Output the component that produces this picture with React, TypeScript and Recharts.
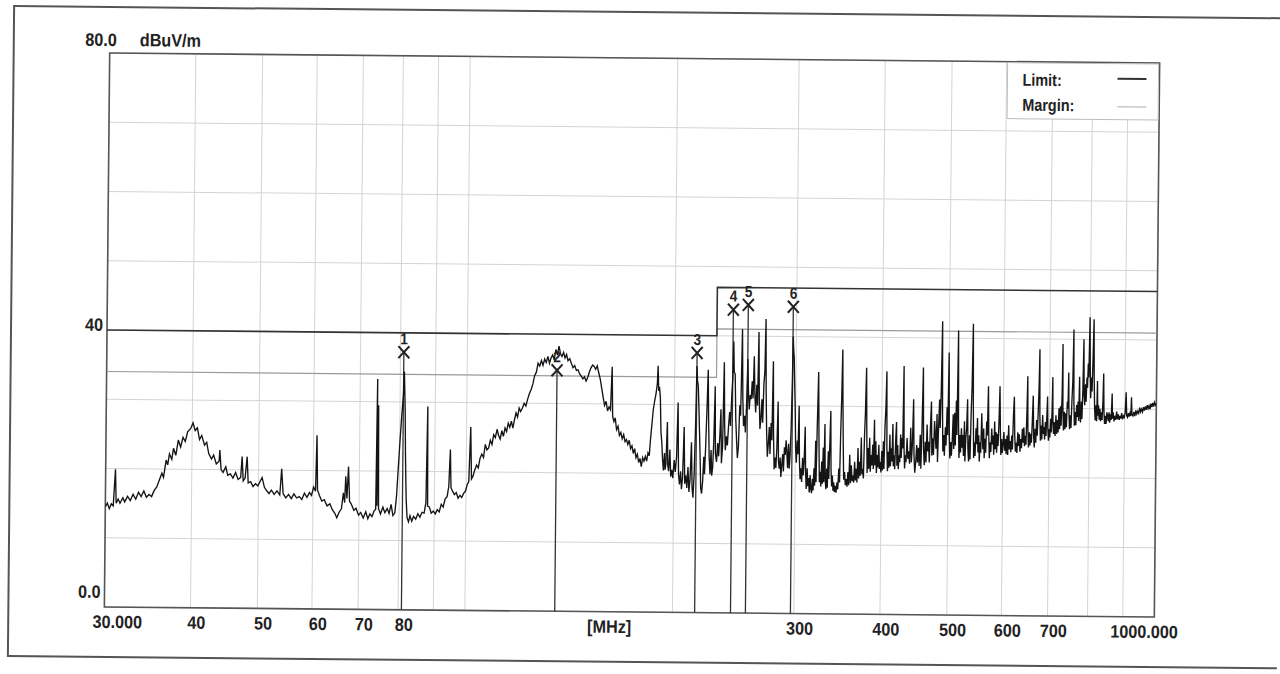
import React from "react";
import {
  ComposedChart,
  Line,
  Scatter,
  XAxis,
  YAxis,
  CartesianGrid,
  ReferenceLine,
  ReferenceArea,
} from "recharts";

// measured trace, [MHz, dBuV/m]
const traceLow: [number, number][] = [
  [30.0,14.5],[30.2,15.0],[30.4,14.2],[30.6,14.9],[30.8,14.6],[31.0,19.9],[31.1,15.0],[31.3,15.6],[31.5,15.0],[31.8,15.8],
  [32.0,15.2],[32.3,16.0],[32.6,15.4],[32.9,16.3],[33.2,15.6],[33.5,16.6],[33.8,16.0],[34.1,16.8],[34.4,15.9],[34.7,16.3],
  [35.0,16.0],[35.3,16.9],[35.6,17.4],[35.9,18.4],[36.2,19.4],[36.4,18.8],[36.7,21.3],[36.9,20.6],[37.1,22.2],[37.4,21.4],
  [37.6,23.0],[37.9,22.0],[38.2,24.2],[38.5,23.2],[38.8,24.6],[39.1,24.0],[39.4,25.4],[39.8,25.9],[40.1,26.7],[40.4,25.6],
  [40.7,26.0],[41.0,24.3],[41.3,24.9],[41.7,23.5],[42.0,23.9],[42.3,22.3],[42.7,21.5],[43.0,22.1],[43.4,20.8],[43.8,21.2],
  [43.9,22.8],[44.1,20.0],[44.4,19.6],[44.8,20.4],[45.1,19.2],[45.5,19.4],[45.9,18.8],[46.3,19.6],[46.7,18.6],[47.1,18.9],
  [47.3,21.9],[47.5,18.4],[47.8,18.8],[48.1,21.9],[48.3,18.1],[48.7,18.3],[49.1,17.6],[49.5,18.0],[49.9,17.7],[50.3,18.4],
  [50.6,18.9],[51.0,17.5],[51.4,17.0],[51.8,16.6],[52.2,17.1],[52.7,16.5],[53.2,17.0],[53.7,16.4],[54.0,20.2],[54.3,16.6],
  [54.8,16.0],[55.3,16.5],[55.8,15.9],[56.3,16.6],[56.8,16.0],[57.3,16.2],[57.8,15.8],[58.3,16.7],[58.8,16.1],[59.3,16.8],
  [59.7,16.4],[60.1,17.6],[60.5,17.0],[60.7,25.1],[60.9,17.2],[61.3,16.4],[61.8,15.6],[62.3,15.8],[62.9,14.9],[63.5,15.2],
  [64.0,14.4],[64.6,13.8],[65.0,13.2],[65.5,14.0],[66.0,14.5],[66.4,16.8],[66.7,15.4],[66.9,19.2],[67.2,16.0],[67.5,20.6],
  [67.8,15.6],[68.2,15.2],[68.8,14.3],[69.3,14.6],[69.9,13.6],[70.4,14.0],[71.0,13.2],[71.6,14.1],[72.1,13.1],[72.6,13.8],
  [73.1,13.4],[73.6,14.2],[74.0,14.5],[74.2,33.3],[74.3,15.0],[74.5,29.5],[74.7,14.6],[75.2,13.8],[75.8,14.8],[76.3,14.0],
  [76.9,14.6],[77.4,13.9],[77.9,15.2],[78.4,13.6],[78.9,14.0],[79.3,16.4],[79.7,20.5],[80.1,24.5],[80.5,28.0],[80.9,31.0],
  [81.1,34.4],[81.4,29.0],[81.6,22.4],[81.9,16.0],[82.2,13.3],[82.6,12.7],[83.0,13.6],[83.5,12.8],[84.0,13.5],[84.6,13.1],
  [85.2,13.9],[85.8,13.4],[86.4,14.1],[87.0,14.0],[87.5,15.5],[87.8,29.4],[88.0,15.0],[88.5,14.9],[89.1,14.0],[89.7,14.3],
  [90.3,13.9],[90.9,14.5],[91.5,14.2],[92.1,15.3],[92.7,14.9],[93.3,16.1],[93.9,16.4],[94.4,17.9],[94.8,23.2],[95.1,17.7],
  [95.6,17.2],[96.2,16.7],[96.8,17.0],[97.4,16.2],[98.0,16.6],[98.6,16.3],[99.2,16.9],[99.8,17.2],
];

const traceMid: [number, number][] = [
  [100.4,18.2],[100.9,18.6],[101.4,26.5],[101.8,19.0],[102.3,19.4],[102.9,20.3],[103.5,21.0],[104.1,20.6],[104.7,22.0],[105.3,22.6],
  [105.9,22.1],[106.5,24.0],[107.1,23.2],[107.7,23.5],[108.3,24.6],[108.9,24.0],[109.5,25.4],[110.1,25.0],[110.7,26.2],[111.3,25.3],
  [111.9,24.8],[112.5,26.0],[113.1,25.2],[113.7,26.4],[114.3,25.9],[114.9,27.1],[115.5,26.5],[116.1,27.4],[116.7,26.4],[117.3,27.6],
  [117.9,28.6],[118.5,28.0],[119.1,29.3],[119.7,28.8],[120.4,29.3],[121.1,30.0],[121.8,29.6],[122.5,30.6],[123.2,31.4],[123.9,32.0],
  [124.6,32.8],[125.3,34.0],[126.0,34.5],[126.7,35.8],[127.4,35.4],[128.1,36.2],[128.8,35.5],[129.5,36.4],[130.2,35.9],[130.9,36.8],
  [131.6,35.8],[132.3,36.6],[133.0,37.0],[133.7,36.3],[134.4,37.8],[135.1,37.0],[135.8,38.3],[136.5,37.2],[137.2,36.8],[137.9,37.4],
  [138.6,36.6],[139.3,37.1],[140.0,36.2],[140.8,36.5],[141.6,35.8],[142.4,35.2],[143.2,35.5],[144.0,34.8],[144.8,34.9],[145.6,34.3],
  [146.4,34.0],[147.2,33.6],[148.0,33.9],[148.8,33.3],[149.6,33.8],[150.4,34.6],[151.2,35.2],[152.0,35.6],[152.8,35.4],[153.6,35.0],
  [154.4,35.5],[155.2,34.5],[156.0,33.6],[156.8,32.3],[157.6,31.0],[158.4,29.8],[159.2,30.4],[160.0,29.0],[160.8,29.6],[161.6,29.2],
  [162.3,35.4],[162.8,28.2],[163.5,27.5],[164.2,28.0],[165.0,26.3],[165.8,26.8],[166.6,25.5],[167.4,25.9],[168.2,25.0],[169.0,25.6],
  [169.8,24.6],[170.6,24.9],[171.4,24.2],[172.2,24.8],[173.0,23.6],[173.8,24.0],[174.6,22.9],[175.4,23.6],[176.2,22.3],[177.0,22.8],
  [177.8,21.6],[178.6,22.2],[179.4,21.0],[180.2,22.3],[181.0,21.8],[181.8,22.5],[182.6,21.8],[183.4,23.0],[184.2,22.6],[184.8,24.8],
  [185.6,27.0],[186.4,29.2],[187.2,30.5],[188.0,31.5],[188.8,33.0],[189.2,35.6],[189.7,32.0],[190.3,32.3],[190.8,31.0],[191.4,26.0],
  [192.0,24.5],[192.6,22.0],[193.2,20.5],[193.8,23.0],[194.3,20.6],[194.8,21.5],[195.5,27.5],[196.0,21.2],[196.6,20.4],[197.3,23.5],
  [198.0,19.6],[198.7,20.6],[199.4,19.4],[200.2,22.0],[201.0,20.3],[201.8,22.5],[202.5,30.3],[203.2,20.0],[203.9,18.5],[204.6,20.4],
  [205.3,17.8],[206.0,19.5],[206.8,26.8],[207.5,18.6],[208.2,19.8],[209.0,18.0],[209.7,21.0],[210.5,17.4],[211.2,19.2],[212.0,24.6],
  [212.7,18.0],[213.4,16.6],[214.1,20.0],[214.8,27.0],[215.4,35.6],[215.9,33.5],[216.5,32.7],[217.1,29.6],[217.7,26.0],[218.3,22.5],
  [218.9,18.0],[219.6,17.2],[220.3,19.0],[221.0,22.5],[221.6,20.0],[222.3,24.0],[223.1,30.0],[223.7,35.1],[224.3,28.0],[225.0,22.5],
  [225.7,20.0],[226.4,23.5],[227.0,19.8],[227.7,21.0],[228.4,25.0],[229.1,32.7],[229.7,23.0],
];

const traceHighA: [number, number][] = [
  [230.6,21.8],[231.4,24.5],[232.2,22.6],[233.0,25.5],[233.7,29.4],[234.4,21.6],[235.2,24.0],[236.0,36.2],[236.7,27.0],[237.4,23.5],
  [238.2,25.5],[239.0,24.2],[239.8,27.0],[240.6,29.0],[241.4,27.0],[242.2,31.5],[242.9,34.0],[243.4,39.2],[244.0,34.8],[244.8,34.5],
  [245.6,28.0],[246.4,25.0],[247.2,22.4],[248.0,24.0],[248.8,30.0],[249.6,28.5],[250.5,41.0],[251.3,31.0],[252.1,27.0],[252.9,28.5],
  [253.7,26.1],[254.5,30.0],[255.3,36.7],[256.0,32.0],[256.8,29.4],[257.6,31.5],[258.4,30.9],[259.2,33.5],[260.0,31.0],[260.8,37.1],
  [261.6,31.5],[262.4,29.0],[263.2,33.0],[264.0,30.0],[264.7,40.6],[265.5,31.0],[266.3,26.6],[267.1,28.0],[267.9,30.9],[268.7,27.5],
  [269.5,33.0],[270.3,35.0],[270.9,42.5],[271.6,32.0],[272.4,26.0],[273.2,22.6],[274.0,24.5],[274.8,26.9],[275.6,23.0],[276.4,27.5],
  [277.2,25.0],[278.0,36.4],[278.8,25.5],[279.6,20.8],[280.4,22.5],[281.2,21.0],[282.0,24.0],[282.8,30.6],[283.6,22.0],[284.4,20.9],
  [285.2,22.5],[286.0,19.7],[286.8,21.5],[287.6,23.0],[288.4,20.5],[289.2,24.0],[290.0,22.9],[290.8,25.0],[291.6,23.2],[292.4,21.0],
  [293.2,24.5],[294.0,20.9],[294.8,23.0],[295.6,26.9],[296.3,33.0],[296.8,40.0],[297.4,38.0],[298.0,36.9],[298.7,33.0],[299.4,29.9],
  [300.2,24.0],[301.0,21.8],[301.8,25.0],[302.6,23.0],[303.4,30.0],[304.2,22.0],[305.0,19.4],[305.8,21.0],[306.6,19.0],[307.4,22.5],
  [308.2,20.0],[309.0,22.0],[309.8,27.0],[310.6,20.5],[311.4,18.0],[312.2,21.0],[313.0,18.4],[313.8,19.6],[314.6,17.5],[315.4,20.0],
  [316.2,18.0],[317.0,17.4],[317.8,19.5],[318.6,17.8],[319.4,21.0],[320.2,18.5],[321.0,25.0],[321.7,19.0],[322.5,27.0],[323.5,34.9],
  [324.5,25.0],[325.3,19.0],[326.1,20.5],[326.9,18.4],[327.7,22.0],[328.5,18.8],[329.3,24.0],[330.1,19.0],[330.9,27.4],[331.7,19.5],
  [332.5,18.0],[333.3,21.0],[334.1,18.2],[334.9,23.5],[335.7,19.5],[336.5,24.5],[337.3,29.3],[338.1,21.0],[338.9,18.4],[339.7,20.0],
  [340.5,17.8],[341.3,19.0],[342.1,17.6],[343.0,18.5],[344.0,17.5],[345.0,19.0],[346.0,18.0],[347.0,21.0],[348.0,19.0],[348.8,26.0],
  [349.6,31.0],[350.4,38.2],[351.2,30.0],[352.0,24.0],[352.8,19.4],[353.8,20.5],[354.8,18.6],[355.8,19.5],[356.8,18.4],[357.8,20.5],
  [358.8,18.6],[359.8,23.0],[360.8,18.9],[361.8,21.5],[362.8,19.2],[363.8,20.0],[364.8,19.0],[365.8,22.0],[366.8,19.3],[367.8,21.0],
  [368.8,19.0],[369.8,24.0],[370.8,19.6],[371.8,22.0],[372.8,20.0],[373.8,25.5],[374.8,20.2],[375.8,21.0],[376.8,19.6],[377.8,26.0],
  [378.6,29.0],[379.6,35.6],[380.5,27.0],[381.4,20.4],[382.4,24.0],[383.4,21.0],[384.4,25.5],[385.4,20.6],[386.4,23.0],[387.4,21.5],
  [388.4,24.5],[389.4,21.0],[390.4,28.1],[391.4,21.5],[392.4,25.0],[393.4,20.4],[394.4,23.0],[395.4,21.2],[396.4,24.5],[397.4,21.0],
  [398.4,22.0],[399.4,20.5],
];

const traceHighB: [number, number][] = [
  [400.4,23.6],[401.4,20.8],[402.4,25.0],[403.4,21.0],[404.4,27.1],[405.4,30.0],[406.3,35.1],[407.2,24.0],[408.2,20.7],[409.2,23.5],
  [410.2,21.2],[411.2,26.0],[412.2,21.4],[413.2,24.0],[414.2,22.1],[415.2,27.5],[416.2,21.4],[417.2,23.0],[418.2,21.0],[419.2,25.0],
  [420.2,27.8],[421.2,21.5],[422.2,24.5],[423.2,21.0],[424.2,23.0],[425.2,22.0],[426.2,26.0],[427.2,22.6],[428.2,25.5],[429.2,24.0],
  [430.2,35.9],[431.2,24.0],[432.2,21.1],[433.2,23.0],[434.2,22.0],[435.5,25.5],[436.8,22.5],[438.1,23.6],[439.4,21.8],[440.7,27.0],
  [442.0,22.0],[443.3,24.5],[444.6,31.1],[445.9,23.0],[447.2,20.5],[448.5,22.0],[449.8,24.5],[451.1,22.0],[452.4,24.1],[453.7,21.5],
  [455.0,26.0],[456.3,21.1],[457.6,27.0],[458.9,35.7],[460.2,24.0],[461.5,21.6],[462.8,25.0],[464.1,22.0],[465.4,27.5],[466.7,23.6],
  [468.0,25.0],[469.3,22.0],[470.6,27.0],[471.9,30.8],[473.2,23.0],[474.5,25.5],[475.8,23.1],[477.1,28.0],[478.4,26.1],[479.7,24.0],
  [481.0,29.0],[482.3,22.1],[483.6,27.0],[484.9,31.1],[486.2,27.0],[487.5,33.0],[488.6,42.4],[489.7,30.0],[490.8,23.6],[492.1,26.0],
  [493.4,23.0],[494.7,27.1],[496.0,24.5],[497.3,30.0],[498.6,26.0],[499.9,37.9],[501.2,26.5],[502.5,22.6],[503.8,25.0],[505.1,23.0],
  [506.4,25.2],[507.7,29.0],[509.0,24.0],[510.3,29.2],[511.6,24.5],[512.9,31.0],[514.2,26.0],[515.5,41.1],[516.8,28.0],[518.1,22.7],
  [519.4,26.0],[520.7,23.5],[522.0,27.0],[523.3,24.2],[524.6,26.0],[525.9,23.0],[527.2,28.0],[528.5,22.2],[529.8,25.5],[531.1,27.0],
  [532.4,31.2],[533.7,24.0],[535.0,22.2],[536.3,26.0],[537.6,22.5],[538.9,29.0],[540.2,33.0],[541.5,42.1],[542.8,30.0],[544.1,22.7],
  [545.4,25.0],[546.7,23.0],[548.0,27.0],[549.3,24.7],[550.6,28.5],[551.9,23.5],[553.2,26.0],[554.5,22.2],[555.8,25.0],[557.1,23.5],
  [558.4,29.2],[559.7,26.2],[561.0,24.0],[562.3,27.0],[563.6,22.7],[565.0,25.5],[566.4,23.5],[567.8,28.0],[569.2,26.0],[570.6,33.1],
  [572.0,26.0],[573.4,22.7],[574.8,25.0],[576.2,23.6],[577.6,27.0],[579.0,24.7],[580.4,26.0],[581.8,23.2],[583.2,28.0],[584.6,24.0],
  [586.0,26.5],[587.4,23.5],[588.8,26.2],[590.2,24.5],[591.6,28.0],[593.0,33.1],[594.4,27.0],[595.8,23.2],[597.2,25.5],[598.6,23.5],
  [600.0,24.7],[601.6,26.5],[603.2,23.8],[604.8,25.5],[606.4,23.3],[608.0,26.0],[609.6,23.2],[611.2,27.5],[612.8,24.0],[614.4,25.2],
  [616.0,23.6],[617.6,26.0],[619.2,24.0],[620.8,29.0],[622.3,31.6],[623.8,26.0],[625.4,23.7],[627.0,25.0],[628.6,23.5],[630.2,26.5],
  [631.8,24.5],[633.4,26.2],[635.0,23.7],[636.6,25.5],[638.2,24.2],[639.8,27.0],[641.4,25.0],[643.0,27.2],[644.6,24.5],[646.2,26.0],
  [647.8,24.7],[649.4,30.0],[650.5,34.6],[651.6,27.0],[653.2,24.3],[654.8,26.5],[656.4,24.6],[658.0,26.3],[659.6,25.0],[661.2,28.0],
  [662.8,31.8],[664.4,26.0],[666.0,24.3],[667.6,27.0],[669.2,25.0],[670.8,28.3],[672.4,26.0],[674.0,29.0],[675.6,33.0],[676.8,38.5],
  [678.0,29.0],[679.6,25.3],[681.2,27.5],[682.8,25.5],[684.4,29.0],[686.0,26.3],[687.6,27.3],[689.2,25.5],[690.8,28.0],[692.4,26.0],
  [694.0,29.0],[695.3,31.7],[696.6,27.0],[698.2,25.3],[699.8,27.0],[701.4,25.8],[703.0,28.5],[704.6,26.5],[706.2,30.0],[707.2,34.5],
  [708.4,28.0],[710.0,26.3],[711.8,28.0],[713.6,26.0],[715.4,29.0],[717.2,26.3],[719.0,28.3],[720.8,26.5],[722.6,30.0],[724.4,27.0],
  [726.2,30.3],[728.0,27.5],[729.8,32.0],[730.9,39.3],[732.0,30.0],[733.8,26.8],[735.6,29.5],[737.4,27.0],[739.2,29.3],[741.0,27.3],
  [742.8,31.0],[744.5,30.0],[745.7,35.2],[747.0,29.5],[748.8,27.0],[750.6,29.0],[752.4,27.2],[754.2,31.0],[756.1,34.0],[757.7,41.4],
  [759.2,31.0],[761.0,27.5],[762.8,29.5],[764.6,27.6],[766.4,30.5],[768.2,28.8],[770.0,31.0],[771.8,28.2],[773.3,34.6],[774.8,29.5],
  [776.6,28.0],[778.4,31.0],[780.2,28.5],[782.0,32.5],[783.7,40.0],[785.4,32.0],[787.2,30.5],[789.0,33.5],[790.8,31.0],[792.6,34.5],
  [794.2,33.0],[795.8,36.5],[797.4,34.5],[799.3,43.2],[801.0,36.0],[802.8,31.5],[804.6,34.5],[806.4,32.5],[808.4,37.5],[810.2,42.9],
  [812.0,34.0],[813.8,30.0],[815.6,28.3],[817.6,30.5],[819.6,28.2],[821.0,34.0],[822.5,29.0],[824.5,30.5],[826.5,28.4],[828.5,30.0],
  [830.5,28.2],[832.5,29.5],[834.5,28.4],[836.5,31.0],[838.0,35.1],[839.7,29.5],[841.6,27.8],[843.5,29.0],[845.8,27.8],[848.0,29.5],
  [850.0,29.0],[852.0,28.2],[854.0,29.5],[856.0,28.0],[858.0,29.2],[860.3,28.4],[862.6,32.2],[864.0,28.6],[866.0,29.5],[868.5,28.2],
  [871.0,29.0],[873.5,28.4],[876.0,29.6],[878.5,28.5],[881.0,29.2],[883.5,28.4],[886.0,29.0],[888.5,28.6],[891.0,29.4],[893.6,28.5],
  [896.2,29.0],[898.8,28.8],[901.4,29.5],[903.8,32.4],[906.0,29.0],[908.5,28.8],[911.0,29.4],[913.5,28.9],[916.0,29.4],[918.5,29.0],
  [920.2,31.7],[922.0,29.2],[925.0,29.0],[928.0,29.6],[931.0,29.0],[934.0,29.8],[937.0,29.3],[940.0,29.7],[943.0,29.4],[946.0,30.2],
  [949.0,29.6],[952.0,30.0],[955.0,29.6],[958.0,30.3],[961.0,29.8],[964.0,30.4],[967.0,29.9],[970.0,30.6],[973.0,30.1],[976.0,30.5],
  [979.0,30.0],[982.0,30.8],[985.0,30.3],[988.0,30.9],[991.0,30.4],[994.0,31.0],[997.0,30.6],[1000,30.8],
];

// limit / margin step lines
const limitFreq = [30, 230, 230, 1000];
const limitLevel = [40, 40, 47, 47];
const marginLevel = [34, 34, 41, 41];

// marked peaks
const markerNo = [1, 2, 3, 4, 5, 6];
const markerFreq = [80.9, 135.0, 215.4, 242.8, 255.2, 296.6];
const markerLevel = [37.2, 34.8, 37.5, 43.8, 44.5, 44.3];

const xTicks = [30, 40, 50, 60, 70, 80, 90, 100, 200, 300, 400, 500, 600, 700, 800, 900, 1000];
const xTickText: Record<number, string> = {
  30: "30.000", 40: "40", 50: "50", 60: "60", 70: "70", 80: "80",
  300: "300", 400: "400", 500: "500", 600: "600", 700: "700", 1000: "1000.000",
};
const yTicks = [0, 10, 20, 30, 40, 50, 60, 70, 80];
const yTickText: Record<number, string> = { 0: "0.0", 40: "40", 80: "80.0" };

const FONT = "'Liberation Sans', Arial, sans-serif";
const INK = "#222";

const trace = [...traceLow, ...traceMid, ...traceHighA, ...traceHighB].map(([f, v]) => ({ f, v }));
const limit = limitFreq.map((f, i) => ({ f, v: limitLevel[i] }));
const margin = limitFreq.map((f, i) => ({ f, v: marginLevel[i] }));
const markers = markerNo.map((n, i) => ({ n, f: markerFreq[i], v: markerLevel[i] }));

function XTick(props: any) {
  const { x, y, payload } = props;
  const label = xTickText[payload.value];
  if (!label) return <g />;
  const dx = payload.value === 30 ? 13 : payload.value === 1000 ? -10 : 6;
  return (
    <text
      transform={`translate(${x + dx},${y + 21}) scale(0.9,1)`}
      textAnchor="middle"
      fontFamily={FONT}
      fontSize={18}
      fontWeight={700}
      fill={INK}
    >
      {label}
    </text>
  );
}

const yOff: Record<number, [number, number]> = { 0: [-4, -9], 40: [-4, 1], 80: [7, -7] };

function YTick(props: any) {
  const { x, y, payload } = props;
  const label = yTickText[payload.value];
  if (!label) return <g />;
  const [dx, dy] = yOff[payload.value];
  return (
    <text
      transform={`translate(${x + dx},${y + dy}) scale(0.9,1)`}
      textAnchor="end"
      fontFamily={FONT}
      fontSize={18}
      fontWeight={700}
      fill={INK}
    >
      {label}
    </text>
  );
}

function MarkerShape(props: any) {
  const { cx, cy, payload } = props;
  return (
    <g>
      <line x1={cx - 5.5} y1={cy - 6} x2={cx + 5.5} y2={cy + 6} stroke={INK} strokeWidth={2} />
      <line x1={cx + 5.5} y1={cy - 6} x2={cx - 5.5} y2={cy + 6} stroke={INK} strokeWidth={2} />
      <text
        transform={`translate(${cx},${cy - 8}) scale(0.85,1)`}
        textAnchor="middle"
        fontFamily={FONT}
        fontSize={16}
        fontWeight={600}
        fill={INK}
      >
        {payload.n}
      </text>
    </g>
  );
}

export default function App() {
  return (
    <div style={{ position: "absolute", left: 0, top: 0, width: 1280, height: 674, background: "#fff", overflow: "hidden" }}>
      <div style={{ position: "absolute", left: 0, top: 0, width: 1280, height: 674, transform: "rotate(0.55deg)", transformOrigin: "632px 335px" }}>
        <ComposedChart width={1280} height={674} margin={{ top: 58, right: 123, bottom: 0, left: 0 }}>
          <CartesianGrid stroke="#d4d4d4" strokeWidth={1} />
          <XAxis
            type="number"
            dataKey="f"
            scale="log"
            domain={[30, 1000]}
            ticks={xTicks}
            interval={0}
            allowDataOverflow
            tickSize={0}
            tickMargin={0}
            axisLine={false}
            tick={<XTick />}
            height={62}
          />
          <YAxis
            type="number"
            domain={[0, 80]}
            ticks={yTicks}
            interval={0}
            tickSize={0}
            tickMargin={0}
            axisLine={false}
            tick={<YTick />}
            width={107}
          />
          <ReferenceArea x1={30} x2={1000} y1={0} y2={80} fill="none" stroke="#555" strokeWidth={1.6} />
          <Line data={margin} dataKey="v" type="linear" stroke="#9a9a9a" strokeWidth={1.2} dot={false} isAnimationActive={false} />
          <Line data={limit} dataKey="v" type="linear" stroke="#333" strokeWidth={1.6} dot={false} isAnimationActive={false} />
          {markers.map((m) => (
            <ReferenceLine
              key={m.n}
              segment={[{ x: m.f, y: 0 }, { x: m.f, y: m.v }]}
              stroke="#333"
              strokeWidth={1.3}
            />
          ))}
          <Line data={trace} dataKey="v" type="linear" stroke="#141414" strokeWidth={1.35} dot={false} isAnimationActive={false} />
          <Scatter data={markers} dataKey="v" shape={<MarkerShape />} isAnimationActive={false} />
        </ComposedChart>
        <svg width={1280} height={674} style={{ position: "absolute", left: 0, top: 0, pointerEvents: "none" }}>
          <rect x={11} y={12} width={1300} height={650} fill="none" stroke="#555" strokeWidth={2} />
          <text transform="translate(137,51) scale(0.9,1)" fontFamily={FONT} fontSize={18} fontWeight={700} fill={INK}>
            dBuV/m
          </text>
          <text transform="translate(612,633) scale(0.9,1)" textAnchor="middle" fontFamily={FONT} fontSize={18} fontWeight={700} fill={INK}>
            [MHz]
          </text>
          <rect x={1005} y={59} width={151} height={56} fill="#fff" stroke="#bdbdbd" strokeWidth={1} />
          <text transform="translate(1020,82) scale(0.85,1)" fontFamily={FONT} fontSize={17} fontWeight={700} fill={INK}>
            Limit:
          </text>
          <line x1={1115} y1={74} x2={1144} y2={74} stroke="#333" strokeWidth={2} />
          <text transform="translate(1020,107) scale(0.85,1)" fontFamily={FONT} fontSize={17} fontWeight={700} fill={INK}>
            Margin:
          </text>
          <line x1={1115} y1={102} x2={1144} y2={102} stroke="#c8c8c8" strokeWidth={1.5} />
        </svg>
      </div>
    </div>
  );
}
